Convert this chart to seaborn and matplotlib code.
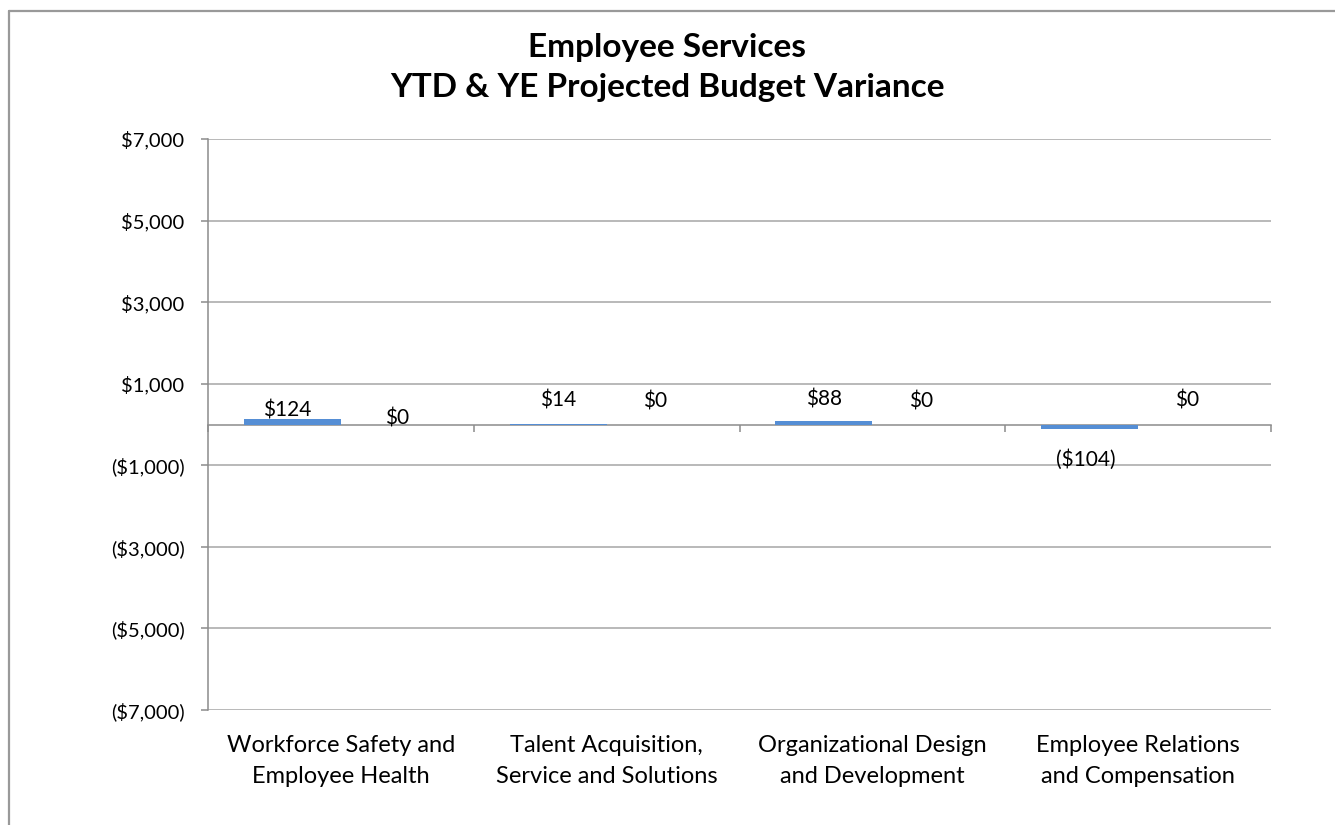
import matplotlib
matplotlib.use("Agg")
import matplotlib.pyplot as plt
import seaborn as sns
import pandas as pd
from matplotlib.lines import Line2D
from matplotlib.ticker import FuncFormatter

# ---- data ----
categories = [
    "Workforce Safety and\nEmployee Health",
    "Talent Acquisition,\nService and Solutions",
    "Organizational Design\nand Development",
    "Employee Relations\nand Compensation",
]
series_names = ["YTD", "YE Projected"]
ytd_values = [124, 14, 88, -104]
ye_values = [0, 0, 0, 0]
y_ticks = [-7000, -5000, -3000, -1000, 1000, 3000, 5000, 7000]

# data label nudges (pixels), one per bar
ytd_label_offsets = [(-5, 9), (0, 23), (0, 21), (-4, -31)]
ye_label_offsets = [(8, 6), (0, 23), (0, 23), (0, 24)]

rows = []
for cat, v in zip(categories, ytd_values):
    rows.append([cat, series_names[0], v])
for cat, v in zip(categories, ye_values):
    rows.append([cat, series_names[1], v])
df = pd.DataFrame(rows, columns=["Category", "Series", "Value"])


def money(v, pos=None):
    if v < 0:
        return f"(${-v:,.0f})"
    return f"${v:,.0f}"


sns.set_theme(style="white")
plt.rcParams["font.family"] = ["Lato", "DejaVu Sans"]
plt.rcParams["text.color"] = "black"

W, H = 1335, 825
fig = plt.figure(figsize=(W / 100, H / 100), dpi=100)
ax = fig.add_axes([208 / W, 1 - 710 / H, (1271 - 208) / W, (710 - 139) / H])

sns.barplot(data=df, x="Category", y="Value", hue="Series",
            palette=["#558ED5", "#C0504D"], width=0.73, dodge=True,
            saturation=1, linewidth=0, legend=False, ax=ax)

ax.set_ylim(y_ticks[0], y_ticks[-1])
ax.set_xlim(-0.5, len(categories) - 0.5)
ax.set_yticks(y_ticks)
ax.yaxis.set_major_formatter(FuncFormatter(money))
ax.yaxis.grid(True, color="#A6A6A6", linewidth=1.1)
ax.set_axisbelow(True)
ax.set_xlabel("")
ax.set_ylabel("")

for s in ["top", "right", "bottom"]:
    ax.spines[s].set_visible(False)
ax.spines["left"].set_color("#8C8C8C")
ax.spines["left"].set_linewidth(1.1)

ax.tick_params(axis="y", direction="out", length=5, width=1.1, color="#8C8C8C",
               labelsize=14.5, labelcolor="black", pad=12, left=True)
ax.tick_params(axis="x", length=0, labelsize=17, labelcolor="black", pad=18)
for lbl in ax.get_xticklabels():
    lbl.set_linespacing(1.6)

# category axis crossing at zero with boundary tick marks
zero_pos = (0 - y_ticks[0]) / (y_ticks[-1] - y_ticks[0])
sec = ax.secondary_xaxis(zero_pos)
sec.set_alignment("bottom")
sec.set_xticks([i - 0.5 for i in range(len(categories) + 1)])
sec.set_xticklabels([])
sec.tick_params(direction="out", length=5, width=1.1, color="#8C8C8C")
for s in sec.spines.values():
    s.set_color("#8C8C8C")
    s.set_linewidth(1.1)

# data labels
for container, vals, offs in zip(ax.containers, [ytd_values, ye_values],
                                 [ytd_label_offsets, ye_label_offsets]):
    for bar, v, (dx, dy) in zip(container, vals, offs):
        x = bar.get_x() + bar.get_width() / 2
        ax.annotate(money(v), (x, v), xytext=(dx, dy), textcoords="offset pixels",
                    ha="center", va="center", fontsize=15, color="black")

fig.text(0.5, 1 - 47 / H, "Employee Services", ha="center", va="center",
         fontsize=24, fontweight="bold", color="black")
fig.text(0.5, 1 - 88 / H, "YTD & YE Projected Budget Variance", ha="center",
         va="center", fontsize=24, fontweight="bold", color="black")

# chart area border
bx, by = 8.5 / W, 1 - 10.5 / H
fig.add_artist(Line2D([bx, 1], [by, by], transform=fig.transFigure,
                      color="#999999", linewidth=1.6))
fig.add_artist(Line2D([bx, bx], [0, by], transform=fig.transFigure,
                      color="#999999", linewidth=1.6))

fig.savefig("out.png", dpi=100)
